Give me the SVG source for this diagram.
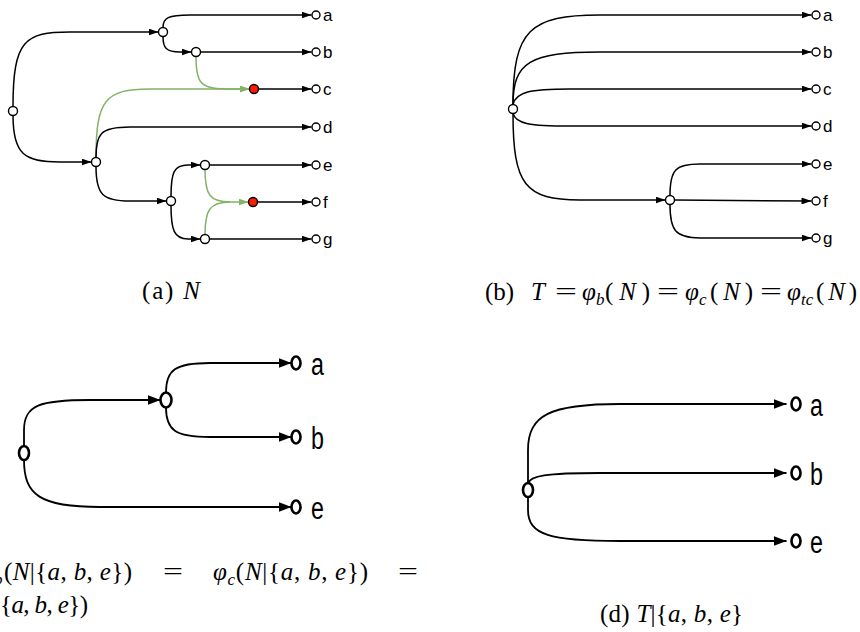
<svg xmlns="http://www.w3.org/2000/svg" width="860" height="632" viewBox="0 0 860 632">
<defs>
<style>
.e{fill:none;stroke:#000;stroke-width:1.5}
.g{fill:none;stroke:#82b366;stroke-width:1.5}
.E{fill:none;stroke:#000;stroke-width:1.8}
.n{fill:#fff;stroke:#000;stroke-width:1.4}
.r{fill:#ff1a00;stroke:#000;stroke-width:1.4}
.N{fill:#fff;stroke:#000;stroke-width:2.6}
.l{font-family:"Liberation Sans",Arial,sans-serif;font-size:17px;fill:#000}
.L{font-family:"Liberation Sans",Arial,sans-serif;font-size:31px;fill:#000}
.c{font-family:"Liberation Serif","Times New Roman",serif;font-size:25px;fill:#000}
.i{font-style:italic}
.s{font-style:italic;font-size:17px}
</style>
<marker id="ab" viewBox="0 0 10 7" refX="10" refY="3.5" markerWidth="10" markerHeight="7" orient="auto" markerUnits="userSpaceOnUse"><path d="M0,0 L10,3.5 L0,7 z" fill="#000"/></marker>
<marker id="ag" viewBox="0 0 10 7" refX="10" refY="3.5" markerWidth="10" markerHeight="7" orient="auto" markerUnits="userSpaceOnUse"><path d="M0,0 L10,3.5 L0,7 z" fill="#82b366"/></marker>
<marker id="aL" viewBox="0 0 13 10" refX="13" refY="5" markerWidth="13" markerHeight="10" orient="auto" markerUnits="userSpaceOnUse"><path d="M0,0 L13,5 L0,10 z" fill="#000"/></marker>
</defs>

<!-- ===== Panel (a) ===== -->
<g id="edges-a">
<path class="e" marker-end="url(#ab)" d="M13,106.5 C13,40 25,32 70,32 L158.5,32"/>
<path class="e" marker-end="url(#ab)" d="M13,115.5 C13,155 25,162 60,162 L91.5,162"/>
<path class="e" marker-end="url(#ab)" d="M163,27.5 C163,18 168,15 190,15 L311.5,15"/>
<path class="e" marker-end="url(#ab)" d="M163,36.5 C163,48 166,52 180,52 L191.5,52"/>
<path class="e" marker-end="url(#ab)" d="M200.5,52 L311.5,52"/>
<path class="g" marker-end="url(#ag)" d="M196,56.5 C196,82 200,89 225,89 L249.5,89"/>
<path class="e" marker-end="url(#ab)" d="M258.5,89 L311.5,89"/>
<path class="g" marker-end="url(#ag)" d="M96,157.5 C96,100 105,89 150,89 L249.5,89"/>
<path class="e" marker-end="url(#ab)" d="M96,157.5 C96,134 100,127 130,127 L311.5,127"/>
<path class="e" marker-end="url(#ab)" d="M96,166.5 C96,195 103,201 130,201 L166.5,201"/>
<path class="e" marker-end="url(#ab)" d="M171,196.5 C171,172 174,165 188,165 L200.5,165"/>
<path class="e" marker-end="url(#ab)" d="M171,205.5 C171,230 174,239 188,239 L200.5,239"/>
<path class="e" marker-end="url(#ab)" d="M209.5,165 L311.5,165"/>
<path class="e" marker-end="url(#ab)" d="M209.5,239 L311.5,239"/>
<path class="g" marker-end="url(#ag)" d="M205,169.5 C205,195 210,202 230,202 L248.5,202"/>
<path class="g" d="M205,234.5 C205,210 210,202 230,202"/>
<path class="e" marker-end="url(#ab)" d="M257.5,202 L311.5,202"/>
</g>
<g id="a-root"><circle class="n" cx="13" cy="111" r="4.5"/></g>
<g id="a-u1"><circle class="n" cx="163" cy="32" r="4.5"/></g>
<g id="a-u2"><circle class="n" cx="196" cy="52" r="4.5"/></g>
<g id="a-v"><circle class="n" cx="96" cy="162" r="4.5"/></g>
<g id="a-w"><circle class="n" cx="171" cy="201" r="4.5"/></g>
<g id="a-x1"><circle class="n" cx="205" cy="165" r="4.5"/></g>
<g id="a-x2"><circle class="n" cx="205" cy="239" r="4.5"/></g>
<g id="a-hc"><circle class="r" cx="254" cy="89" r="4.5"/></g>
<g id="a-hf"><circle class="r" cx="253" cy="202" r="4.5"/></g>
<g id="a-leaf-a"><circle class="n" cx="316" cy="15" r="4"/><text class="l" x="323" y="21">a</text></g>
<g id="a-leaf-b"><circle class="n" cx="316" cy="52" r="4"/><text class="l" x="323" y="58">b</text></g>
<g id="a-leaf-c"><circle class="n" cx="316" cy="89" r="4"/><text class="l" x="323" y="95">c</text></g>
<g id="a-leaf-d"><circle class="n" cx="316" cy="127" r="4"/><text class="l" x="323" y="133">d</text></g>
<g id="a-leaf-e"><circle class="n" cx="316" cy="165" r="4"/><text class="l" x="323" y="171">e</text></g>
<g id="a-leaf-f"><circle class="n" cx="316" cy="202" r="4"/><text class="l" x="323" y="208">f</text></g>
<g id="a-leaf-g"><circle class="n" cx="316" cy="239" r="4"/><text class="l" x="323" y="245">g</text></g>

<!-- ===== Panel (b) ===== -->
<g id="edges-b">
<path class="e" marker-end="url(#ab)" d="M513,104.5 C513,30 530,15 600,15 L811.5,15"/>
<path class="e" marker-end="url(#ab)" d="M513,104.5 C513,62 530,52 600,52 L811.5,52"/>
<path class="e" marker-end="url(#ab)" d="M513,104.5 C516,92 530,89 570,89 L811.5,89"/>
<path class="e" marker-end="url(#ab)" d="M513,113.5 C516,124 530,126 570,126 L811.5,126"/>
<path class="e" marker-end="url(#ab)" d="M513,113.5 C513,185 525,200 580,200 L665.5,200"/>
<path class="e" marker-end="url(#ab)" d="M670,195.5 C670,170 675,164 700,164 L811.5,164"/>
<path class="e" marker-end="url(#ab)" d="M674.5,200 L811.5,201"/>
<path class="e" marker-end="url(#ab)" d="M670,204.5 C670,230 675,238 700,238 L811.5,238"/>
</g>
<g id="b-root"><circle class="n" cx="513" cy="109" r="4.5"/></g>
<g id="b-inner"><circle class="n" cx="670" cy="200" r="4.5"/></g>
<g id="b-leaf-a"><circle class="n" cx="816" cy="15" r="4"/><text class="l" x="823" y="21">a</text></g>
<g id="b-leaf-b"><circle class="n" cx="816" cy="52" r="4"/><text class="l" x="823" y="58">b</text></g>
<g id="b-leaf-c"><circle class="n" cx="816" cy="89" r="4"/><text class="l" x="823" y="95">c</text></g>
<g id="b-leaf-d"><circle class="n" cx="816" cy="126" r="4"/><text class="l" x="823" y="132">d</text></g>
<g id="b-leaf-e"><circle class="n" cx="816" cy="164" r="4"/><text class="l" x="823" y="170">e</text></g>
<g id="b-leaf-f"><circle class="n" cx="816" cy="201" r="4"/><text class="l" x="823" y="207">f</text></g>
<g id="b-leaf-g"><circle class="n" cx="816" cy="238" r="4"/><text class="l" x="823" y="244">g</text></g>

<!-- caption a -->
<text class="c" x="142" y="299" textLength="58" lengthAdjust="spacing">(a) <tspan class="i">N</tspan></text>

<!-- caption b -->
<text class="c" x="485" y="300">(b)</text>
<text class="c i" x="531" y="300">T</text>
<text class="c" x="555" y="300" textLength="22" lengthAdjust="spacingAndGlyphs">=</text>
<text class="c i" x="582" y="300">φ</text>
<text class="c s" x="596" y="305">b</text>
<text class="c" x="605" y="300" textLength="45" lengthAdjust="spacing">(<tspan class="i">N</tspan>)</text>
<text class="c" x="657" y="300" textLength="22" lengthAdjust="spacingAndGlyphs">=</text>
<text class="c i" x="685" y="300">φ</text>
<text class="c s" x="699" y="305">c</text>
<text class="c" x="710" y="300" textLength="43" lengthAdjust="spacing">(<tspan class="i">N</tspan>)</text>
<text class="c" x="760" y="300" textLength="22" lengthAdjust="spacingAndGlyphs">=</text>
<text class="c i" x="787" y="300">φ</text>
<text class="c s" x="801" y="305">tc</text>
<text class="c" x="816" y="300" textLength="41" lengthAdjust="spacing">(<tspan class="i">N</tspan>)</text>

<!-- ===== Panel (c) ===== -->
<g id="edges-c">
<path class="E" marker-end="url(#aL)" d="M24,446 L24,430 C24,405 40,400 90,400 L160.5,400"/>
<path class="E" marker-end="url(#aL)" d="M166,392.5 C166,370 175,363 210,363 L291.5,363"/>
<path class="E" marker-end="url(#aL)" d="M166,407.5 C166,430 175,437 210,437 L291.5,437"/>
<path class="E" marker-end="url(#aL)" d="M24,460 C24,495 40,507 100,507 L291.5,507"/>
</g>
<g id="c-root"><ellipse class="N" cx="24" cy="453" rx="5" ry="7"/></g>
<g id="c-u"><ellipse class="N" cx="166" cy="400" rx="5.5" ry="7.5"/></g>
<g id="c-leaf-a"><ellipse class="N" cx="296" cy="363" rx="4.5" ry="6.5"/><text class="L" transform="translate(311,375) scale(0.75,1)">a</text></g>
<g id="c-leaf-b"><ellipse class="N" cx="296" cy="437" rx="4.5" ry="6.5"/><text class="L" transform="translate(311,449) scale(0.75,1)">b</text></g>
<g id="c-leaf-e"><ellipse class="N" cx="296" cy="507" rx="4.5" ry="6.5"/><text class="L" transform="translate(311,519) scale(0.75,1)">e</text></g>

<!-- caption c (cut at left edge) -->
<text class="c s" x="-6" y="585">b</text>
<text class="c" x="4" y="580" textLength="128" lengthAdjust="spacing">(<tspan class="i">N</tspan>|{<tspan class="i">a</tspan>, <tspan class="i">b</tspan>, <tspan class="i">e</tspan>})</text>
<text class="c" x="163" y="580" textLength="20" lengthAdjust="spacingAndGlyphs">=</text>
<text class="c" x="213" y="580" textLength="155" lengthAdjust="spacing"><tspan class="i">φ</tspan><tspan class="s" dy="5">c</tspan><tspan dy="-5">(</tspan><tspan class="i">N</tspan>|{<tspan class="i">a</tspan>, <tspan class="i">b</tspan>, <tspan class="i">e</tspan>})</text>
<text class="c" x="398" y="580" textLength="20" lengthAdjust="spacingAndGlyphs">=</text>
<text class="c" x="0" y="613" textLength="88" lengthAdjust="spacing">{<tspan class="i">a</tspan>, <tspan class="i">b</tspan>, <tspan class="i">e</tspan>})</text>

<!-- ===== Panel (d) ===== -->
<g id="edges-d">
<path class="E" marker-end="url(#aL)" d="M528,483 L528,450 C528,415 550,404 620,404 L786.5,404"/>
<path class="E" marker-end="url(#aL)" d="M528,483.5 C530,476 545,473 600,473 L786.5,473"/>
<path class="E" marker-end="url(#aL)" d="M528,497 L528,510 C528,535 550,541 620,541 L786.5,541"/>
</g>
<g id="d-root"><ellipse class="N" cx="528" cy="490" rx="5" ry="7"/></g>
<g id="d-leaf-a"><ellipse class="N" cx="796" cy="404" rx="4.5" ry="6.5"/><text class="L" transform="translate(810,416) scale(0.75,1)">a</text></g>
<g id="d-leaf-b"><ellipse class="N" cx="796" cy="473" rx="4.5" ry="6.5"/><text class="L" transform="translate(810,485) scale(0.75,1)">b</text></g>
<g id="d-leaf-e"><ellipse class="N" cx="796" cy="541" rx="4.5" ry="6.5"/><text class="L" transform="translate(810,553) scale(0.75,1)">e</text></g>

<text class="c" x="600" y="622" textLength="143" lengthAdjust="spacing">(d) <tspan class="i">T</tspan>|{<tspan class="i">a</tspan>, <tspan class="i">b</tspan>, <tspan class="i">e</tspan>}</text>
</svg>
